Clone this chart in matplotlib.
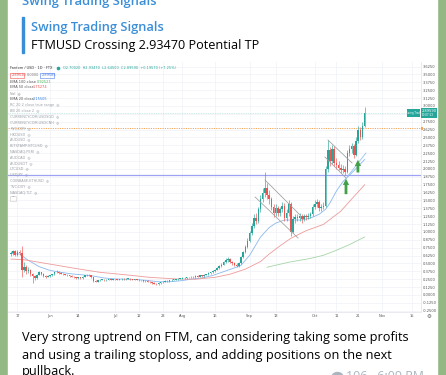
import numpy as np
import pandas as pd
import matplotlib
matplotlib.use("Agg")
import matplotlib.pyplot as plt
import matplotlib.dates as mdates
from matplotlib.patches import Rectangle, Ellipse

W, H = 446, 375

# ---- FTM/USD daily candles (first candle 2021-05-14) ----
START = "2021-05-14"
first_open = 0.65
closes = [
    0.66, 0.70, 0.64, 0.68, 0.67, 0.40, 0.45, 0.38, 0.40, 0.33,
    0.30, 0.27, 0.32, 0.36, 0.34, 0.30, 0.29, 0.30, 0.31, 0.33,
    0.36, 0.37, 0.35, 0.34, 0.33, 0.32, 0.31, 0.30, 0.29, 0.28,
    0.27, 0.28, 0.27, 0.29, 0.31, 0.32, 0.31, 0.28, 0.22, 0.21,
    0.23, 0.24, 0.24, 0.23, 0.24, 0.25, 0.24, 0.25, 0.25, 0.24,
    0.25, 0.26, 0.25, 0.26, 0.26, 0.25, 0.24, 0.25, 0.24, 0.23,
    0.23, 0.22, 0.22, 0.21, 0.20, 0.19, 0.18, 0.17, 0.19, 0.20,
    0.21, 0.22, 0.22, 0.23, 0.24, 0.24, 0.25, 0.26, 0.26, 0.27,
    0.27, 0.28, 0.28, 0.29, 0.28, 0.30, 0.29, 0.31, 0.30, 0.32,
    0.33, 0.35, 0.36, 0.38, 0.40, 0.43, 0.46, 0.48, 0.52, 0.55,
    0.57, 0.52, 0.50, 0.48, 0.46, 0.50, 0.60, 0.68, 0.76, 0.86,
    0.98, 1.10, 1.22, 1.18, 1.36, 1.52, 1.62, 1.70, 1.58, 1.52,
    1.40, 1.30, 1.38, 1.30, 1.36, 1.42, 1.22, 1.30, 1.45, 1.00,
    1.20, 1.24, 1.22, 1.26, 1.20, 1.25, 1.23, 1.26, 1.28, 1.40,
    1.45, 1.47, 1.38, 1.40, 1.42, 2.00, 2.30, 2.12, 2.32, 2.10,
    2.06, 2.02, 1.98, 2.00, 1.95, 2.25, 2.32, 2.36, 2.22, 2.45,
    2.62, 2.50, 2.68, 2.89,
]
highs = [
    0.70, 0.72, 0.72, 0.71, 0.72, 0.78, 0.52, 0.47, 0.44, 0.41,
    0.35, 0.32, 0.33, 0.38, 0.37, 0.35, 0.31, 0.31, 0.32, 0.34,
    0.37, 0.39, 0.38, 0.36, 0.35, 0.34, 0.33, 0.32, 0.31, 0.30,
    0.29, 0.29, 0.29, 0.30, 0.32, 0.33, 0.33, 0.32, 0.29, 0.24,
    0.24, 0.25, 0.25, 0.25, 0.25, 0.26, 0.26, 0.26, 0.26, 0.26,
    0.26, 0.27, 0.27, 0.27, 0.27, 0.27, 0.26, 0.26, 0.26, 0.25,
    0.24, 0.24, 0.23, 0.23, 0.22, 0.21, 0.20, 0.19, 0.20, 0.21,
    0.22, 0.23, 0.23, 0.24, 0.25, 0.25, 0.26, 0.27, 0.27, 0.28,
    0.28, 0.29, 0.29, 0.30, 0.30, 0.31, 0.31, 0.32, 0.32, 0.33,
    0.34, 0.36, 0.37, 0.39, 0.42, 0.45, 0.48, 0.50, 0.54, 0.58,
    0.60, 0.58, 0.54, 0.52, 0.50, 0.52, 0.62, 0.70, 0.80, 0.90,
    1.02, 1.15, 1.28, 1.30, 1.40, 1.58, 1.70, 1.95, 1.78, 1.66,
    1.56, 1.45, 1.44, 1.42, 1.40, 1.48, 1.46, 1.36, 1.50, 1.47,
    1.25, 1.28, 1.28, 1.30, 1.29, 1.29, 1.28, 1.30, 1.32, 1.45,
    1.50, 1.52, 1.50, 1.44, 1.47, 2.05, 2.46, 2.35, 2.38, 2.36,
    2.18, 2.12, 2.08, 2.06, 2.04, 2.30, 2.38, 2.42, 2.40, 2.50,
    2.68, 2.66, 2.74, 2.98,
]
lows = [
    0.62, 0.64, 0.62, 0.62, 0.64, 0.29, 0.36, 0.34, 0.35, 0.30,
    0.19, 0.24, 0.26, 0.31, 0.32, 0.28, 0.27, 0.28, 0.29, 0.30,
    0.32, 0.35, 0.34, 0.33, 0.32, 0.31, 0.30, 0.29, 0.28, 0.27,
    0.26, 0.26, 0.26, 0.26, 0.28, 0.30, 0.30, 0.27, 0.20, 0.20,
    0.20, 0.22, 0.23, 0.22, 0.22, 0.23, 0.23, 0.23, 0.24, 0.23,
    0.23, 0.24, 0.24, 0.24, 0.25, 0.24, 0.23, 0.23, 0.23, 0.22,
    0.22, 0.21, 0.21, 0.20, 0.19, 0.18, 0.17, 0.16, 0.16, 0.18,
    0.19, 0.20, 0.21, 0.21, 0.22, 0.23, 0.23, 0.24, 0.25, 0.25,
    0.26, 0.26, 0.27, 0.27, 0.27, 0.27, 0.28, 0.28, 0.29, 0.29,
    0.31, 0.32, 0.34, 0.35, 0.37, 0.39, 0.42, 0.44, 0.47, 0.50,
    0.53, 0.50, 0.48, 0.46, 0.44, 0.45, 0.49, 0.58, 0.66, 0.74,
    0.84, 0.95, 1.06, 1.12, 1.15, 1.32, 1.48, 1.55, 1.52, 1.45,
    1.35, 1.24, 1.26, 1.25, 1.26, 1.32, 1.18, 1.18, 1.26, 0.94,
    0.98, 1.15, 1.17, 1.18, 1.15, 1.17, 1.19, 1.20, 1.22, 1.26,
    1.36, 1.40, 1.34, 1.33, 1.36, 1.40, 1.96, 2.05, 2.08, 2.05,
    2.00, 1.98, 1.94, 1.93, 1.90, 1.93, 2.20, 2.26, 2.18, 2.20,
    2.42, 2.46, 2.48, 2.66,
]

# moving averages, read as points (days counted from 2021-06-01)
ema20_days = [-18, -14, -10, -5, 0, 5, 10, 15, 20, 25, 30, 35, 40, 45, 50, 55, 60, 65,
              70, 75, 80, 85, 88, 92, 97, 101, 104, 108, 112, 116, 120, 124, 127, 129,
              132, 135, 140, 145]
ema20_vals = [0.66, 0.65, 0.55, 0.45, 0.39, 0.36, 0.335, 0.32, 0.30, 0.27, 0.255, 0.25,
              0.245, 0.23, 0.21, 0.21, 0.225, 0.25, 0.27, 0.31, 0.37, 0.43, 0.47, 0.63,
              0.92, 1.07, 1.14, 1.19, 1.19, 1.19, 1.22, 1.28, 1.36, 1.46, 1.65, 1.80,
              1.97, 2.15]
ema50_days = [-18, -12, 0, 12, 23, 35, 46, 58, 67, 76, 83, 90, 97, 101, 106, 111, 118,
              126, 134, 140, 145]
ema50_vals = [0.57, 0.56, 0.49, 0.42, 0.36, 0.32, 0.28, 0.255, 0.25, 0.28, 0.33, 0.41,
              0.53, 0.65, 0.78, 0.90, 1.02, 1.12, 1.33, 1.56, 1.75]
ema100_days = [100, 110, 120, 126, 132, 138, 145]
ema100_vals = [0.44, 0.52, 0.58, 0.63, 0.71, 0.80, 0.92]

support_level = 1.90
target_level = 2.65
last_price = 2.8959

# drawn channels / arrows (days from 2021-06-01, price)
channels = [
    ((99.1, 1.825), (115.2, 1.27)),
    ((94.5, 1.556), (114.3, 0.905)),
    ((128.1, 2.46), (139.2, 2.095)),
    ((126.7, 2.19), (136.4, 1.857)),
]
trend_line = ((136.9, 1.873), (145.6, 2.254))
arrows = [((136.4, 1.556), (136.4, 1.89)), ((141.9, 1.90), (141.9, 2.19))]

tick_dates = ["2021-05-17", "2021-06-01", "2021-06-14", "2021-07-01", "2021-07-12",
              "2021-07-23", "2021-08-01", "2021-08-16", "2021-09-01", "2021-09-13",
              "2021-10-01", "2021-10-11", "2021-10-21", "2021-11-01", "2021-11-15"]
tick_labels = ["17", "Jun", "14", "Jul", "12", "23", "Aug", "16", "Sep", "13",
               "Oct", "11", "21", "Nov", "15"]

legend_rows = [
    "RC 20 2 close true range", "BB 20 close 2", "CURRENCYCOM:USDSGD",
    "CURRENCYCOM:USDCNH", "TVC:DXY", "HKDUSD", "AUDUSD", "BITSTAMP:BTCUSD",
    "NASDAQ:PERI", "AUDCAD", "AUDUSDT", "LTCUSD", "USDJPY", "COINBASE:ETHUSD",
    "TVC:DXY", "NASDAQ:TLT",
]

UP, DOWN = "#26a69a", "#ef5350"
BLUE = "#3a8ed8"

fig = plt.figure(figsize=(W / 100, H / 100), dpi=100)

# ---- telegram background + bubble (pixel coordinates) ----
bg = fig.add_axes([0, 0, 1, 1])
bg.set_xlim(0, W)
bg.set_ylim(H, 0)
bg.axis("off")
bg.add_patch(Rectangle((0, 0), W, H, color="#93b883", zorder=0))
bg.add_patch(Rectangle((8, -10), 429, H + 20, color="white", zorder=1))

bg.text(22, 5, "Swing Trading Signals", fontsize=9.4, family="Open Sans",
        weight="semibold", color=BLUE, va="baseline", zorder=2)
bg.add_patch(Rectangle((22, 17), 2.2, 36, color=BLUE, zorder=2))
bg.text(31, 31, "Swing Trading Signals", fontsize=9.3, family="Open Sans",
        weight="semibold", color=BLUE, va="baseline", zorder=2)
bg.text(31, 48.5, "FTMUSD Crossing 2.93470 Potential TP", fontsize=9.1,
        family="Open Sans", color="#000000", va="baseline", zorder=2)

body = ["Very strong uptrend on FTM, can considering taking some profits",
        "and using a trailing stoploss, and adding positions on the next",
        "pullback."]
for i, line in enumerate(body):
    bg.text(22, 341.5 + 17 * i, line, fontsize=9.2, family="Open Sans",
            color="#000000", va="baseline", zorder=2)
bg.add_patch(Ellipse((337.5, 377), 11, 9, color="#a9b6c0", zorder=2))
bg.text(346, 380, "106   6:09 PM", fontsize=9, family="Open Sans",
        color="#a9b6c0", va="baseline", zorder=2)

# ---- chart ----
jun1 = mdates.date2num(pd.Timestamp("2021-06-01"))
ax = fig.add_axes([8 / W, 1 - 312 / H, (421 - 8) / W, (312 - 62) / H])
ax.set_facecolor("none")
ax.set_xlim(jun1 + (8 - 50) / 2.17, jun1 + (421 - 50) / 2.17)
ax.set_ylim(-0.27, 3.698)

dates = mdates.date2num(pd.date_range(START, periods=len(closes), freq="D"))
c = np.array(closes)
o = np.array([first_open] + closes[:-1])
hi = np.array(highs)
lo = np.array(lows)
col = np.where(c >= o, UP, DOWN)
ax.vlines(dates, lo, hi, colors=col, lw=0.45, zorder=3)
ax.bar(dates, np.maximum(np.abs(c - o), 0.006), bottom=np.minimum(o, c), width=0.72,
       color=col, lw=0, zorder=4)

ax.plot(jun1 + np.array(ema20_days), ema20_vals, color="#8ab8ee", lw=0.6, zorder=2)
ax.plot(jun1 + np.array(ema50_days), ema50_vals, color="#ef9a9a", lw=0.6, zorder=2)
ax.plot(jun1 + np.array(ema100_days), ema100_vals, color="#a5d6a7", lw=0.6, zorder=2)

ax.axhline(support_level, color="#9ea2f2", lw=0.9, zorder=2)
ax.axhline(target_level, color="#f6a35a", lw=0.7, ls=(0, (1.2, 1.2)), zorder=2)
ax.axhline(last_price, color="#9fd8d1", lw=0.5, ls=(0, (1, 1.5)), zorder=2)

for (d0, p0), (d1, p1) in channels:
    ax.plot([jun1 + d0, jun1 + d1], [p0, p1], color="#9e9e9e", lw=0.55, zorder=5)
(d0, p0), (d1, p1) = trend_line
ax.plot([jun1 + d0, jun1 + d1], [p0, p1], color="#90c4f0", lw=0.6, zorder=5)
for (d0, p0), (d1, p1) in arrows:
    ax.annotate("", xy=(jun1 + d1, p1), xytext=(jun1 + d0, p0), zorder=6,
                arrowprops=dict(arrowstyle="simple,head_length=0.9,head_width=0.9,tail_width=0.4",
                                mutation_scale=5, color="#43a047", lw=0))

yt = np.arange(-0.25, 3.7, 0.125)
ax.set_yticks(yt)
ax.set_yticklabels([f"{v:.4f}" for v in yt])
ax.yaxis.tick_right()
ax.set_xticks(mdates.date2num(pd.to_datetime(tick_dates)))
ax.set_xticklabels(tick_labels)
ax.tick_params(axis="both", labelsize=2.6, length=0, colors="#555555")
ax.tick_params(axis="y", pad=1.2)
ax.tick_params(axis="x", pad=1.6)
ax.grid(True, color="#eef1f6", lw=0.5, zorder=0)
for s in ["top", "left"]:
    ax.spines[s].set_visible(False)
for s in ["right", "bottom"]:
    ax.spines[s].set_color("#e0e3eb")
    ax.spines[s].set_linewidth(0.5)

# ---- chart overlays (pixel coordinates) ----
ov = fig.add_axes([0, 0, 1, 1])
ov.set_xlim(0, W)
ov.set_ylim(H, 0)
ov.axis("off")
tf = dict(fontsize=2.5, family="DejaVu Sans", va="center", zorder=10)
ov.text(10, 68.3, "Fantom / USD \u00b7 1D \u00b7 FTX", color="#333333", **tf)
ov.plot([58], [68.3], "o", ms=1.6, color=UP)
ov.text(63, 68.3, "O2.70020  H2.93470  L2.64500  C2.89590  +0.19570 (+7.25%)",
        color=UP, **tf)
ov.add_patch(Rectangle((10, 72.5), 14, 5, fill=False, ec=DOWN, lw=0.4))
ov.text(11.5, 75, "2.89510", color=DOWN, **tf)
ov.text(27, 75, "0.0000", color="#777777", **tf)
ov.add_patch(Rectangle((40, 72.5), 14, 5, fill=False, ec="#4a7ff0", lw=0.4))
ov.text(41.5, 75, "2.89585", color="#4a7ff0", **tf)
ov.text(10, 81.7, "EMA 100 close", color="#555555", **tf)
ov.text(36.5, 81.7, "0.92521", color="#4caf50", **tf)
ov.text(10, 87.3, "EMA 50 close", color="#555555", **tf)
ov.text(33, 87.3, "1.75274", color=DOWN, **tf)
ov.text(10, 93.3, "Vol  \u25ce", color="#888888", **tf)
ov.text(10, 99, "EMA 20 close", color="#555555", **tf)
ov.text(33, 99, "2.15505", color="#2f7ee0", **tf)
for i, name in enumerate(legend_rows):
    ov.text(10, 105 + 5.8 * i, name + "  \u25ce", color="#9a9ea6", **tf)
ov.add_patch(Rectangle((10, 196), 6, 4.5, fill=False, ec="#cccccc", lw=0.4))
ov.text(13, 198.3, "^", color="#777777", ha="center", **tf)

ov.add_patch(Rectangle((407, 109), 13, 7.5, color=UP, lw=0))
ov.text(413.5, 112.8, "Swing Trade", color="white", ha="center", fontsize=1.8,
        va="center", zorder=10)
ov.add_patch(Rectangle((421, 108), 16, 10, color=UP, lw=0))
ov.text(422, 111, "2.89590", color="white", fontsize=2.6, va="center", zorder=10)
ov.text(422, 115.5, "10:07:13", color="white", fontsize=2.0, va="center", zorder=10)
ov.add_patch(Rectangle((420.5, 126.5), 2.5, 3, color="#f6a35a", lw=0))
ov.text(428.5, 317, "\u2699", color="#555555", fontsize=4, ha="center", va="center")

fig.savefig("out.png", dpi=100)
